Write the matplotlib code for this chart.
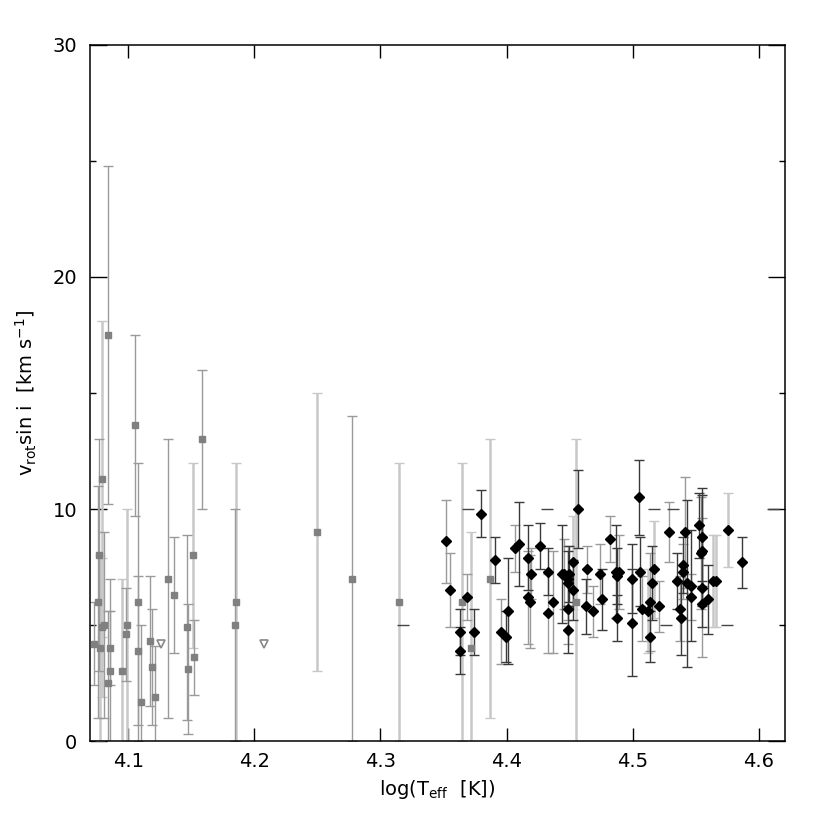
import numpy as np
import matplotlib
matplotlib.use('Agg')
import matplotlib.pyplot as plt

# cooler stars (grey squares): log Teff, vsini, error, bar shade
sq_logt = [4.0844, 4.1056, 4.0790, 4.1585, 4.0770, 4.1513, 4.1315, 4.1360, 4.1080, 4.0760,
           4.1857, 4.1850, 4.1466, 4.1175, 4.0980, 4.0990, 4.0810, 4.0795, 4.0730, 4.0778,
           4.0857, 4.1080, 4.0860, 4.0950, 4.1190, 4.1476, 4.1526, 4.0839, 4.1217, 4.1103,
           4.2497, 4.2778, 4.3150, 4.3643, 4.3714, 4.3865, 4.4548]
sq_vsini = [17.5, 13.6, 11.3, 13.0, 8.0, 8.0, 7.0, 6.3, 6.0, 6.0,
            6.0, 5.0, 4.9, 4.3, 4.6, 5.0, 5.0, 4.9, 4.2, 4.0,
            4.0, 3.9, 3.0, 3.0, 3.2, 3.1, 3.6, 2.5, 1.9, 1.7,
            9.0, 7.0, 6.0, 6.0, 4.0, 7.0, 6.0]
sq_err = [7.3, 3.9, 6.8, 3.0, 5.0, 4.0, 6.0, 2.5, 6.0, 5.0,
          6.0, 5.0, 4.0, 2.8, 2.0, 5.0, 4.0, 3.0, 1.8, 4.0,
          1.6, 3.2, 4.0, 4.0, 2.5, 2.8, 1.6, 3.1, 2.2, 3.3,
          6.0, 7.0, 6.0, 6.0, 5.0, 6.0, 7.0]
sq_shade = ['m', 'm', 'l', 'm', 'm', 'l', 'm', 'm', 'm', 'm',
            'l', 'm', 'm', 'm', 'm', 'l', 'm', 'l', 'm', 'l',
            'm', 'm', 'm', 'l', 'm', 'm', 'm', 'm', 'm', 'm',
            'l', 'm', 'l', 'l', 'l', 'l', 'l']

# upper limits (open triangles)
lim_logt = [4.126, 4.2077]
lim_vsini = [4.17, 4.17]

# hot stars (black diamonds)
dm_logt = [4.3516, 4.3548, 4.3688, 4.3632, 4.3632, 4.3743, 4.3799, 4.3905, 4.3958, 4.3995,
           4.4011, 4.4063, 4.4100, 4.4167, 4.4167, 4.4183, 4.4196, 4.4264, 4.4331, 4.4331,
           4.4365, 4.4437, 4.4452, 4.4484, 4.4486, 4.4495, 4.4529, 4.4529, 4.4490, 4.4490,
           4.4566, 4.4640, 4.4627, 4.4688, 4.4743, 4.4759, 4.4820, 4.4865, 4.4891, 4.4878,
           4.4878, 4.4990, 4.4990, 4.5045, 4.5058, 4.5071, 4.5124, 4.5140, 4.5140, 4.5151,
           4.5164, 4.5206, 4.5286, 4.5349, 4.5373, 4.5384, 4.5397, 4.5413, 4.5429, 4.5400,
           4.5460, 4.5460, 4.5524, 4.5550, 4.5540, 4.5550, 4.5550, 4.5550, 4.5598, 4.5635,
           4.5659, 4.5751, 4.5868]
dm_vsini = [8.6, 6.5, 6.2, 4.7, 3.9, 4.7, 9.8, 7.8, 4.7, 4.5,
            5.6, 8.3, 8.5, 7.9, 6.2, 6.0, 7.2, 8.4, 7.3, 5.5,
            6.0, 7.2, 7.2, 7.0, 6.8, 7.2, 7.7, 6.5, 5.7, 4.8,
            10.0, 7.4, 5.8, 5.6, 7.2, 6.1, 8.7, 7.3, 7.3, 7.1,
            5.3, 7.0, 5.1, 10.5, 7.3, 5.7, 5.6, 6.0, 4.5, 6.8,
            7.4, 5.8, 9.0, 6.9, 5.7, 5.3, 7.6, 9.0, 6.8, 7.3,
            6.7, 6.2, 9.3, 8.8, 8.1, 8.2, 6.6, 5.9, 6.1, 6.9,
            6.9, 9.1, 7.7]
dm_err = [1.8, 1.6, 1.0, 1.0, 1.0, 1.0, 1.0, 1.0, 1.4, 1.1,
          2.3, 1.0, 1.8, 1.4, 2.0, 2.0, 1.1, 1.0, 1.0, 1.7,
          2.2, 2.1, 1.5, 1.2, 1.6, 1.2, 2.0, 1.3, 1.5, 1.0,
          1.7, 1.0, 1.2, 1.1, 1.3, 1.3, 1.0, 2.0, 1.6, 1.2,
          1.0, 1.5, 2.3, 1.6, 1.5, 1.4, 1.8, 2.1, 1.1, 1.6,
          2.1, 1.1, 1.3, 1.2, 1.4, 1.6, 1.2, 2.4, 3.6, 1.2,
          2.4, 1.0, 1.4, 2.1, 2.4, 2.4, 3.0, 1.0, 1.5, 2.0,
          2.0, 1.6, 1.1]
dm_shade = ['m', 'm', 'm', 'd', 'd', 'd', 'd', 'd', 'm', 'd',
            'd', 'm', 'd', 'd', 'm', 'm', 'm', 'd', 'd', 'm',
            'm', 'd', 'm', 'd', 'm', 'd', 'l', 'd', 'm', 'd',
            'd', 'm', 'd', 'm', 'm', 'd', 'm', 'd', 'm', 'd',
            'd', 'd', 'd', 'd', 'd', 'm', 'l', 'm', 'd', 'd',
            'l', 'm', 'm', 'd', 'm', 'd', 'd', 'm', 'd', 'm',
            'd', 'm', 'd', 'd', 'm', 'd', 'm', 'd', 'd', 'l',
            'l', 'l', 'd']

# stray caps
dash_logt = [4.318, 4.369, 4.432, 4.517, 4.532, 4.526, 4.575, 4.611]
dash_vsini = [5.0, 10.0, 10.0, 10.0, 10.0, 5.0, 5.0, 10.0]

shade_col = {'l': '#c8c8c8', 'm': '#9a9a9a', 'd': '#3a3a3a'}
shade_lw = {'l': 1.8, 'm': 1.0, 'd': 1.0}

fig = plt.figure(figsize=(8.3, 8.3), dpi=100)
ax = fig.add_axes([0.1084, 0.1072, 0.8374, 0.8386])

sq_logt = np.array(sq_logt); sq_vsini = np.array(sq_vsini); sq_err = np.array(sq_err)
dm_logt = np.array(dm_logt); dm_vsini = np.array(dm_vsini); dm_err = np.array(dm_err)

for s in ['l', 'm', 'd']:
    k = np.array([c == s for c in sq_shade])
    if k.any():
        ax.errorbar(sq_logt[k], sq_vsini[k], yerr=sq_err[k], fmt='none',
                    ecolor=shade_col[s], elinewidth=shade_lw[s], capsize=3.5, capthick=1.0, zorder=2)
    k = np.array([c == s for c in dm_shade])
    if k.any():
        ax.errorbar(dm_logt[k], dm_vsini[k], yerr=dm_err[k], fmt='none',
                    ecolor=shade_col[s], elinewidth=shade_lw[s], capsize=3.5, capthick=1.0, zorder=3)

ax.plot(dash_logt, dash_vsini, ls='none', marker='_', ms=8, mew=1.0, color='#444444', zorder=3)
ax.plot(sq_logt, sq_vsini, ls='none', marker='s', ms=4, color='#808080', mec='#808080', zorder=4)
ax.plot(lim_logt, lim_vsini, ls='none', marker='v', ms=6, mfc='white', mec='#888888', mew=1.2, zorder=4)
ax.plot(dm_logt, dm_vsini, ls='none', marker='D', ms=5.5, color='black', zorder=5)

ax.set_xlim(4.0698, 4.6206)
ax.set_ylim(0, 30)
ax.set_xticks([4.1, 4.2, 4.3, 4.4, 4.5, 4.6])
ax.set_yticks([0, 10, 20, 30])
ax.set_yticks([5, 15, 25], minor=True)
ax.tick_params(axis='x', which='major', direction='in', top=True, length=9.5, width=1.0,
               labelsize=14, pad=8)
ax.tick_params(axis='y', which='major', direction='in', right=True, length=12.5, width=1.0,
               labelsize=14, pad=9)
ax.tick_params(axis='y', which='minor', direction='in', right=True, length=4.5, width=1.0)
for sp in ax.spines.values():
    sp.set_linewidth(1.1)

ax.set_xlabel(r'log(T$_{\rm eff}$  [K])', fontsize=14, labelpad=5)
ax.set_ylabel(r'v$_{\rm rot}$sin i  [km s$^{-1}$]', fontsize=14, labelpad=10)

fig.savefig('out.png', dpi=100)
